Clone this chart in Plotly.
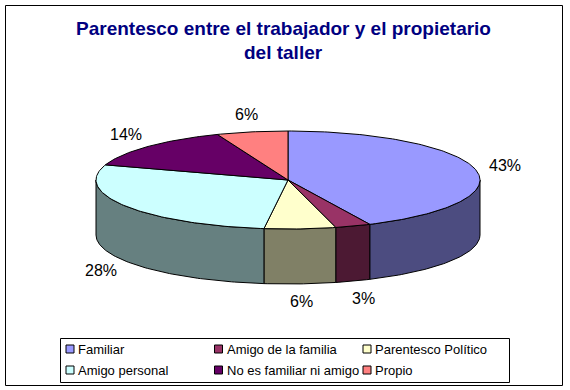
import numpy as np
import plotly.graph_objects as go

# ---------------- data ----------------
categories = ["Familiar", "Amigo de la familia", "Parentesco Político",
              "Amigo personal", "No es familiar ni amigo", "Propio"]
values = [43, 3, 6, 28, 14, 6]
value_labels = ["43%", "3%", "6%", "28%", "14%", "6%"]
top_colors = ["#9999FF", "#993366", "#FFFFCC", "#CCFFFF", "#660066", "#FF8080"]
side_colors = ["#4C4C80", "#4C1933", "#808066", "#668080", "#330033", "#804040"]
title_lines = ["Parentesco entre el trabajador y el propietario", "del taller"]

# ---------------- geometry / style ----------------
W, H = 570, 390
CX, CY, RX, RY, DEPTH = 288, 180, 192, 49, 55
LRX, LRY = 222, 67
FONT = "Arial, Liberation Sans, sans-serif"

total = float(sum(values))
cum = np.concatenate([[0.0], np.cumsum(values)]) / total * 360.0


def arc(a, b, dy=0.0):
    n = max(int(abs(b - a) / 1.0) + 2, 3)
    t = np.radians(np.linspace(a, b, n))
    return CX + RX * np.sin(t), CY - RY * np.cos(t) + dy


fig = go.Figure()

# side walls (front half: 90..270 deg clockwise from top)
for i, v in enumerate(values):
    a = max(cum[i], 90.0)
    b = min(cum[i + 1], 270.0)
    if a >= b:
        continue
    xt, yt = arc(a, b)
    xb, yb = arc(b, a, DEPTH)
    xs = np.concatenate([xt, xb, xt[:1]])
    ys = np.concatenate([yt, yb, yt[:1]])
    fig.add_trace(go.Scatter(x=xs, y=ys, mode="lines", fill="toself",
                             fillcolor=side_colors[i],
                             line=dict(color="black", width=1),
                             hoverinfo="skip", showlegend=False))

# top faces
for i, v in enumerate(values):
    xa, ya = arc(cum[i], cum[i + 1])
    xs = np.concatenate([[CX], xa, [CX]])
    ys = np.concatenate([[CY], ya, [CY]])
    fig.add_trace(go.Scatter(x=xs, y=ys, mode="lines", fill="toself",
                             fillcolor=top_colors[i],
                             line=dict(color="black", width=1),
                             name=categories[i],
                             hoverinfo="name", showlegend=False))

annotations = []
# value labels
for i, v in enumerate(values):
    m = np.radians((cum[i] + cum[i + 1]) / 2.0)
    lx = CX + LRX * np.sin(m)
    ly = CY - LRY * np.cos(m) + (DEPTH if np.cos(m) < 0 else 0)
    annotations.append(dict(x=lx, y=ly, xref="x", yref="y", text=value_labels[i],
                            showarrow=False, xanchor="center", yanchor="middle",
                            font=dict(family=FONT, size=16, color="black")))

# title
for k, line in enumerate(title_lines):
    annotations.append(dict(x=283, y=28 + 24 * k, xref="x", yref="y", text="<b>%s</b>" % line,
                            showarrow=False, xanchor="center", yanchor="middle",
                            font=dict(family=FONT, size=19, color="#000080")))

# legend (custom, 3 columns x 2 rows)
LEG_X0, LEG_DX, LEG_Y0, LEG_DY = 70, 148.5, 349, 21
lx = [LEG_X0 + LEG_DX * (i % 3) for i in range(len(categories))]
ly = [LEG_Y0 + LEG_DY * (i // 3) for i in range(len(categories))]
fig.add_trace(go.Scatter(x=lx, y=ly, mode="markers",
                         marker=dict(symbol="square", size=8, color=top_colors,
                                     line=dict(color="black", width=1)),
                         hoverinfo="skip", showlegend=False))
for i, c in enumerate(categories):
    annotations.append(dict(x=lx[i] + 6, y=ly[i], xref="x", yref="y", text=c,
                            showarrow=False, xanchor="left", yanchor="middle",
                            font=dict(family=FONT, size=13, color="black")))

shapes = [
    dict(type="rect", xref="x", yref="y", x0=5.5, y0=5.5, x1=562.5, y1=385.5,
         line=dict(color="black", width=1), fillcolor="rgba(0,0,0,0)", layer="below"),
    dict(type="rect", xref="x", yref="y", x0=60.5, y0=338.5, x1=509.5, y1=382.5,
         line=dict(color="black", width=1), fillcolor="white", layer="below"),
]

fig.update_layout(
    width=W, height=H,
    margin=dict(l=0, r=0, t=0, b=0, pad=0),
    paper_bgcolor="white", plot_bgcolor="white",
    xaxis=dict(range=[0, W], visible=False, fixedrange=True, domain=[0, 1]),
    yaxis=dict(range=[H, 0], visible=False, fixedrange=True, domain=[0, 1]),
    annotations=annotations,
    shapes=shapes,
    showlegend=False,
)

fig.write_html("out.html", config={"displayModeBar": False},
               post_script="document.body.style.margin='0';")
